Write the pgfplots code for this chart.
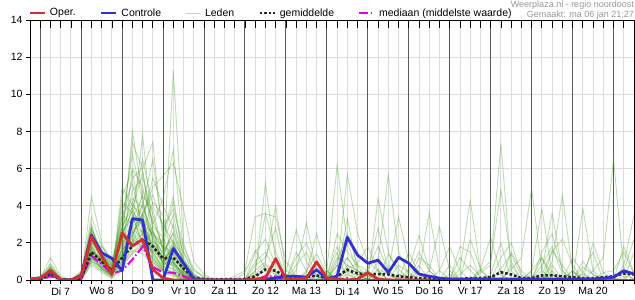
\documentclass[border=0pt]{standalone}
\usepackage{fontspec}
\setmainfont{Liberation Sans}
\usepackage{pgfplots}
\usepackage{pgfplotstable}
\pgfplotsset{compat=1.18}
\definecolor{operred}{RGB}{212,48,48}
\definecolor{ctrlblue}{RGB}{48,48,212}
\definecolor{memgreen}{RGB}{70,155,35}
\definecolor{medmag}{RGB}{225,0,225}
\definecolor{gridgray}{RGB}{220,220,220}
\definecolor{daygray}{RGB}{90,90,90}
\definecolor{infogray}{RGB}{150,150,150}
\pgfplotsset{
 operstyle/.style={operred, line width=2.8bp, line join=round},
 ctrlstyle/.style={ctrlblue, line width=2.8bp, line join=round},
 memstyle/.style={memgreen, line width=0.9bp, opacity=0.35},
 meanstyle/.style={black!85, line width=2.6bp, dash pattern=on 2.6bp off 2bp},
 medstyle/.style={medmag, line width=2bp, dash pattern=on 9bp off 2.5bp on 1.5bp off 2.5bp},
}
\newcommand{\tfont}{\fontsize{10.5bp}{12bp}\selectfont}

% one row per series, one column per 6-hour step (hours from Tue 7 Jan 00:00)
\pgfplotstableread[header=false]{
h -6  0 6 12 18  24 30 36 42  48 54 60 66  72 78 84 90  96 102 108 114  120 126 132 138  144 150 156 162  168 174 180 186  192 198 204 210  216 222 228 234  240 246 252 258  264 270 276 282  288 294 300 306  312 318 324 330  336 342 348
oper 0.05  0.1 0.5 0 0  0.2 2.33 1.3 0.32  2.54 1.83 2.19 0.57  0.1 0 0 0  0 0 0 0  0 0.05 0.1 1.15  0.05 0.05 0.1 0.98  0.1 0.05 0 0.05  0.4 0.05 0 0  0 0 0 nan  nan nan nan nan  nan nan nan nan  nan nan nan nan  nan nan nan nan  nan nan nan
ctrl 0.05  0.1 0.45 0 0  0.25 2.42 1.47 1.16  0.5 3.3 3.23 0  0 1.7 0.9 0.05  0 0 0 0  0 0 0.05 0.1  0.2 0.2 0.15 0.55  0.05 0.2 2.3 1.34  0.9 1.07 0.4 1.22  0.9 0.32 0.2 0.1  0.05 0.05 0.05 0.05  0.05 0.05 0.05 0.05  0.05 0.05 0.05 0.05  0.05 0.05 0.05 0.1  0.15 0.5 0.32
mean 0.02  0.05 0.35 0.02 0.02  0.1 1.5 1.0 0.5  1.2 1.83 2.2 1.8  1.16 1.2 0.63 0.1  0.05 0.05 0.05 0.05  0.05 0.2 0.57 0.5  0.15 0.1 0.15 0.25  0.1 0.2 0.55 0.35  0.3 0.32 0.3 0.2  0.15 0.1 0.1 0.08  0.05 0.05 0.1 0.1  0.15 0.42 0.3 0.1  0.1 0.25 0.25 0.2  0.15 0.1 0.1 0.15  0.2 0.35 0.3
med 0  0 0.2 0 0  0.05 1.3 0.85 0.35  0.5 1.1 1.8 0.7  0.4 0.4 0.2 0  0 0 0 0  0 0 0.2 0.2  0 0 0 0  0 0 0.1 0  0 0 0 0  0 0 0 0  0 0 0 0  0 0 0 0  0 0 0 0  0 0 0 0  0 0 0
m1 0  0.1 0.5 0 0  0.2 1.8 1.0 0.4  2.0 8.0 4.5 1.2  0.5 1.0 0.3 0  0 0 0 0  0 0.2 0.5 0.3  0.1 0 0 0.2  0 0.3 1.2 0.4  0.2 0 0 0  0 0 0.2 0  0 0.3 0.8 0.2  0 0 0 0  0 0.2 0 0  0 0 0 0  0 0.2 0.1
m2 0  0 0.6 0.1 0  0.3 2.5 1.4 0.6  1.5 3.0 7.8 2.5  0.8 2.0 0.5 0.1  0 0 0 0  0 0.4 5.2 1.0  0.2 0 0 0  0 0 0.5 0.2  0 0 0 0  0 0 0 0  0 0 0 0.4  0.8 7.35 0.5 0  0 0 0 0  0 0.3 0 0  0 0 0
m3 0.1  0.2 0.8 0.1 0  0.1 4.5 2.0 0.8  3.0 5.5 6.0 7.4  2.0 1.0 0.2 0  0 0 0 0  0 0 0.3 0.1  0 0 0 0  0.5 6.2 2.0 0.5  0.3 0 0 0  0 0 0 0  0 0 0 0  0 0 0 0  0 0 0.3 0  0 0 0 0  0 0 0
m4 0  0 0.4 0 0  0.1 1.5 0.8 0.2  5.0 4.0 3.5 1.0  0.5 11.3 2.0 0.3  0 0 0 0  0 0 0 0  0 0 0.3 0  0 0 0 0  0 0.5 0 0  0 0 0 0  0 0.6 4.3 0.5  0 0 0 0  0 0 0 0  0 0 0 0.4  0.5 1.5 0.3
m5 0  0.1 1.2 0.2 0  0.4 2.8 1.5 0.5  1.2 6.0 5.0 3.0  4.4 7.0 1.5 0.2  0.1 0 0 0  0 0.5 1.0 4.0  0.5 0.2 0 0  0 0 0 0  0 0 0 0  0 0 0 0  0 0 0 0  0 0 0.6 1.2  4.93 0.5 0 0  0 0 0 0  0 0 0
m6 0  0 0.3 0 0  0 1.2 0.6 0.3  0.8 2.5 3.5 5.0  5.6 6.3 3.8 1.0  0.3 0 0 0  0 0 0 0  0 0 0 0  0 0.5 5.7 2.5  1.0 0.5 0 0  0 0 0 0  0 0 0 0  0 0 0 0  0 0 0.5 0  0 3.85 0.5 0  0 0 0
m7 0  0 0.5 0 0  0.2 3.4 1.8 1.0  2.5 7.4 6.0 2.0  1.0 0.5 0.2 0  0 0 0 0.2  0.5 3.4 3.6 1.5  0.3 0 0 0  0 0 0.3 0  0 0 0 0  0 0.8 0 0  0 0 0 0  0.2 0 0 0  0 0 0 0  0 0 0 0  0 0 0
m8 0  0 0.7 0.1 0  0.5 2.2 1.2 0.4  4.5 5.9 2.5 1.5  0.8 0.3 0.1 0  0 0 0 0  0 0 0 0  0.4 2.7 1.0 0.2  0 0 0 0  0 0 0 0  0 0 0 0  0 0 0 0  0 0 0 0  0.5 3.85 0.3 0  0 0 0 0  0 0 0
m9 0  0.1 0.4 0 0  0.1 1.0 0.5 0.2  1.8 4.0 6.5 4.0  3.0 2.0 0.5 0.1  0 0 0 0  0 0 0 0  0 0 0 0  0 0 0 0  0 1.0 5.7 1.5  0.3 0 0 0  0 0 0 0  0 0 0 0  0 0 0 0  0.5 0 0 0  0 0 0
m10 0  0 0.6 0 0  0.2 2.0 1.6 0.8  3.5 3.0 4.0 6.5  2.5 4.5 1.0 0.2  0 0 0 0  0 0 0 0  0 0 0 0  0 0 0 0  0 0 0 0.3  0 0.5 3.6 0.5  0 0 0 0  0 0 0 0  0 0.5 3.6 0.5  0 0 0 0  0 0 0
m11 0  0 0.3 0 0  0 0.8 0.4 0.1  0.6 1.5 2.0 1.0  0.5 0.3 0 0  0 0 0 0  0 0 0.2 0  0 0 0 0  0 0 0.8 0.5  0 4.4 1.5 0.3  0 0 0 0  0 0 0 0  0 0 0 0  0 0 1.0 4.57  0.5 0 0 0  0 0 0
m12 0  0.1 0.5 0 0  0.3 1.6 1.0 0.5  2.2 4.8 5.5 3.5  1.5 2.5 0.8 0.1  0 0 0 0  0 0.5 3.56 3.4  1.0 0.2 0 0  0 0.3 3.3 0.5  0 0 0 0  0 0 0 0  0 0 0 0  0 0 0 0  0 0 0 0  0 0 0 0  0 0 0
m13 0  0 0.4 0 0  0.1 2.6 1.2 0.3  1.0 3.5 3.0 2.5  2.0 3.5 0.8 0  0 0 0 0  0 0 0 0  0 0.5 3.08 0.5  0 0 0 0  0 0 0 0  0 0 0 0  0 0 0 0  0 0 0 0  0 0 0 0  0 0 0.5 1.2  6.5 0.5 0
m14 0  0 0.5 0.1 0  0.2 1.3 0.7 0.2  1.6 2.2 1.8 1.2  0.6 0.4 0.1 0  0 0 0 0  0 0 0 0  0 0 0.4 2.5  0.5 0 0 0  0 0 0 0  0 0 0 0  0 1.8 1.5 0  0 0 0 0  0 0 0 0  0 0 0 0  0 0.8 3.5
m15 0  0 0.9 0.1 0  0.4 2.0 1.8 1.2  2.8 4.2 3.0 2.0  1.2 3.0 1.5 0.5  0.2 0 0 0  0 0 0 0  0 0 0 0  0 0 0 0  0 0 0 0  0 0 0 0  0 0 0 0.5  1.0 4.84 1.0 0  0 0 0 0  0 0 0 0  0 0 0
m16 0  0 0.3 0 0  0.1 1.7 0.9 0.4  1.3 2.0 4.8 3.2  1.8 1.5 0.3 0  0 0 0 0  0 0 0 0  0 0 0 0  0 0 0 0  0 0 0.5 3.4  1.0 0 0 0  0 0 0 0  0 0 0 0  0 0 0 0  0 0 0 0  0 0 0
m17 0  0.1 0.6 0 0  0.2 2.9 1.1 0.6  3.8 5.2 2.8 1.8  1.0 1.8 0.6 0  0 0 0 0  0 0 0 0  0 0 0 0  0.5 0 0 0  0 0 0 0  0 0 0.5 2.87  0.5 0 0 0  0 0 0 0  0 0 0 0  0 0 0 0  0 0 0
m18 0  0 0.2 0 0  0 1.1 0.6 0.2  0.7 1.8 2.5 4.2  3.5 0.8 0.2 0  0 0 0 0  0 0 0 0  0 0 0 0  0 0 0 0  0 0 0 0  0 0 0 0  0 0 0 0.6  2.3 0.3 0 0  0 0 0 0  0 0 0 0  0 0 0
m19 0  0 0.5 0 0  0.3 2.4 1.3 0.5  2.4 3.8 5.8 2.8  0.8 1.2 0.4 0  0 0 0 0  0 1.0 1.5 0.5  0 0 0 0  0 2.5 1.5 0.8  0.5 0 0 0  0 0 0 0  0 0 0 0  0 0 0 0  0 0 0 0  0 0 0 0  0 0 0
m20 0  0 0.4 0 0  0.1 1.9 0.8 0.3  1.1 2.6 3.2 5.5  4.0 2.8 1.0 0.3  0 0 0 0  0 0 0 0  0 0 0 0  0 0 0 0  0 0 0 0  0 0 0 0.5  1.8 0.5 0 0  0 0 0 0  0 0 0 0  0 0.4 1.5 0  0 0 0
m21 0  0.2 0.6 0.1 0  0.2 1.4 1.0 0.6  3.2 6.8 4.2 2.2  1.5 0.6 0.2 0  0 0 0 0  0 0 0.8 0.3  0 0 0 0  0 0 0 0  0.5 2.8 0.5 0  0 0 0 0  0 0 0 0  0 0 0 0  0.5 1.2 0 0  0 0 0 0  0 0 0
m22 0  0 0.3 0 0  0.2 2.1 1.5 0.9  1.9 2.8 2.2 1.5  2.2 4.2 1.2 0.2  0 0 0 0  0 0 0 0  0 0 0 0  0 1.0 2.5 0.8  0 0 0 0  0 0 0 0  0 0 0 0  0.3 2.0 0 0  0 1.5 2.5 0.5  0 0 0 0  0 0 0
m23 0  0 0.5 0 0  0.1 1.6 0.9 0.4  2.6 3.3 4.5 3.8  1.6 2.2 0.5 0.1  0 0 0 0  0 0 0 0  0 1.5 0.5 0  0 0 0 0  0 0 0 0  1.5 0.3 0 0  0 0 0 0  0 0 0 0  0 0 0 0  0 0 0 0  0 0 0
m24 0  0 0.7 0 0  0.3 3.0 1.2 0.3  4.2 3.6 1.8 0.9  0.4 0.2 0 0  0 0 0 0  0 0 0 0  0 0 0 0  0 0 0 0  0 0 0 0  0 1.2 0.8 0  0 0 0 0  0 0 0 0  0 0 0.8 0  0 0 0 0  0 0 1.5
m25 0  0 0.4 0 0  0.1 1.4 0.6 0.2  1.4 2.4 3.6 4.6  2.8 3.8 1.8 0.6  0.1 0 0 0  0 0 0 0  0 0 0 0  0 0.8 1.2 0.3  0 0 0 0  0 0 0 0  0 1.2 0.5 0  0 0 0 0  0 0.8 1.8 0.3  0 0 0 0  0 0 0
m26 0  0 0.2 0 0  0 0.9 0.5 0.1  0.9 1.6 1.4 0.8  0.5 0.3 0 0  0 0 0 0  0 0.8 1.2 2.8  0.3 0 0 0  0 1.5 0 0  0 0 0 0  0 0 0 0  0 0 0 0  0 0 1.5 0.5  0 0 0 0  0 0 0 0  0 0 0
m27 0  0 0.6 0 0  0.2 2.3 1.4 0.7  3.4 4.4 3.9 2.6  1.3 2.6 0.9 0.2  0 0 0 0  0 0 0 0  0 1.2 2.0 0.6  0 0 0 0  0 0 0 0  0.4 1.5 0.5 0  0 0 0 0  0 0 0 0  0 0 0 0  0 1.0 0.3 0  0 0 0
m28 0  0 0.5 0 0  0.1 1.2 0.7 0.2  1.7 2.9 2.6 1.9  0.9 1.6 0.4 0  0 0 0 0  0 1.5 2.2 0.8  0 0 0 0  0 0 0 0  0 0 0 0  0 0 0 0  0 0 0 0  0 1.2 2.0 0.3  0 0 0 0  0 0 0 0  0 0.5 2.2
m29 0  0 0.4 0 0  0.2 1.8 1.1 0.5  2.1 3.1 3.4 2.3  1.1 0.9 0.3 0  0 0 0 0  0 0 0 0  0 0 0 0  0 0 0 0  0.6 1.8 0.5 0  0 0 0 0  0 0 0 0  0 0 0 0  0 0 1.5 2.2  0.8 0 0 0  0 0 0
m30 0  0.1 0.5 0.1 0  0.3 2.7 1.6 0.6  2.9 3.9 2.4 1.3  0.7 1.4 0.5 0  0 0 0 0  0 0 0 0  0 0 0 0  0.3 1.8 0.6 0  0 0 0 0  0 0 0 0  0.8 0 0 0  0 0 0 0  0 0 0 0  0 0 2.0 0.4  0 0 0
m31 0  0 0.4 0 0  0.2 1.5 1.2 0.6  1.4 2.1 2.7 1.6  1.0 0.8 0.3 0  0 0 0 0  0 0.3 0.9 0.4  0 0.8 1.5 0.2  0 0 0.6 0.9  1.8 0.5 0 0  0 0 0 0  0.3 0 0 0  0 0.6 1.4 0.2  0 0 0 0  0 0 0 0  0 0 0.5
m32 0  0 0.6 0 0  0.2 2.2 1.0 0.3  2.8 1.9 3.6 2.4  1.8 1.1 0.2 0  0 0 0 0  0.4 1.6 0.6 0  0 0 0 0  0 0.8 0.4 0  0 0 1.4 0.6  0 0 0 0  0 0 2.2 0.6  0 0 0 0  0.3 0 0 0  1.2 0.4 0 0  0 0 0
m33 0  0.1 0.3 0 0  0.1 1.1 0.9 0.6  1.2 3.4 2.0 1.1  0.6 1.9 0.7 0.1  0 0 0 0  0 0 0 0  0 0 0.5 1.4  0.3 0 0 0  0 0.6 0.3 0  0 0 0 0  0 0 0 0  0 0 0 0  0 1.2 0.3 0  0 0 0 0  0 1.8 0.4
m34 0  0 0.5 0 0  0.3 1.7 0.9 0.4  2.0 2.6 1.6 2.9  2.3 0.9 0.2 0  0 0 0 0  0 0 0 0  0 0 0 0  0 1.2 0.8 0.3  0 0 0 0  0.6 2.4 0.5 0  0 0 0 0  0 0 0 0  0 0 0 0  0.5 0 0 0  0 0 0
m35 0  0 0.4 0 0  0.2 1.9 1.3 0.7  1.6 2.3 4.1 2.1  1.4 0.9 0.4 0  0 0 0 0  0 0 0 0  0 0 0 0  0 0 0 0  0 0 0 0  0 0 0 0  0 0 0 0  0 0 0.8 0  0 0.3 1.6 0.8  0 0 0 0  0 0 0
m36 0  0 0.3 0 0  0 1.3 0.6 0.3  1.0 2.9 3.3 1.7  0.9 2.1 1.1 0.3  0 0 0 0  0 0 0 0  0 0 0 0  0 0 0 0  0 0 0 0  0 0 0 0  0 0 0 0  0 0 0 0  0 0 0 0  0 0 0 0  0 0 0
m37 0  0 0.6 0 0  0.2 2.6 1.1 0.5  2.3 2.0 2.5 1.5  0.6 0.4 0 0  0 0 0 0  0 0 0 0  0 0 0 0  0 0 0 0  0 0 0 0.8  0.4 0 0 0  0 0 0 0  0 0 0 0  0 0 0 0  0 0.7 0.3 0  0 0 0
m38 0  0 0.5 0.1 0  0.1 1.6 1.0 0.5  1.3 1.8 2.2 1.4  0.7 0.6 0.1 0  0 0 0 0  0 0 0 0  0 0 0 0  0 0 0 0  0 0 0 0  0 0 0 0  0 0 0 0  0 0 0 0  0 0 0 0  0 0 0 0  0 0 0
m39 0  0 0.7 0 0  0.2 2.0 1.4 0.8  2.5 3.7 2.9 1.9  1.2 1.6 0.5 0  0 0 0 0  0 0 0 0  0 0 0 0  0 0 0 0  0 0 0 0  0 0 0 0  0 0 0 0  0 0 0 0  0 0 0 0  0 0 0 0  0 0 0
m40 0  0 0.3 0 0  0.1 1.0 0.7 0.3  0.9 1.4 1.9 2.6  1.7 0.7 0.2 0  0 0 0 0  0 0 0 0  0 0 0 0  0 0 0 0  0 0 0 0  0 0 0 0  0 0 0 0  0 0 0 0  0 0 0 0  0 0 0 0  0 0 0
}\rawdata
\pgfplotstabletranspose[colnames from=0]{\ens}{\rawdata}

\begin{document}
\begin{tikzpicture}
\useasboundingbox (0,0) rectangle (635bp,300bp);
\begin{axis}[
  at={(30bp,20bp)}, anchor=south west,
  scale only axis, width=604bp, height=260bp,
  xmin=-6, xmax=348, ymin=0, ymax=14,
  axis line style={black, line width=0.8bp},
  tick pos=left, tick align=outside,
  major tick length=4bp, minor tick length=4bp,
  tick style={black, line width=0.8bp},
  xtick={12,36,...,324},
  xticklabels={Di 7, Wo 8, Do 9, Vr 10, Za 11, Zo 12, Ma 13, Di 14, Wo 15, Do 16, Vr 17, Za 18, Zo 19, Ma 20},
  minor xtick={-6,6,12,18,30,36,42,54,60,66,78,84,90,102,108,114,126,132,138,150,156,162,174,180,186,198,204,210,222,228,234,246,252,258,270,276,282,294,300,306,318,324,330,342,348},
  extra x ticks={0,24,...,336},
  extra x tick labels={},
  extra x tick style={grid=major, major grid style={daygray, line width=1bp}},
  ytick={0,2,...,14},
  xmajorgrids=false, xminorgrids=true, ymajorgrids=true,
  minor grid style={gridgray, line width=0.9bp},
  major grid style={gridgray, line width=0.9bp},
  ticklabel style={font=\tfont, text=black},
  /pgf/number format/assume math mode=true,
  legend image code/.code={\draw[#1] (0bp,0bp) -- (15bp,0bp);},
  legend style={at={(0,1)}, anchor=west, xshift=-2bp, yshift=7bp,
    draw=none, fill=none, font=\tfont, inner sep=0pt,
    legend columns=5,
    nodes={inner xsep=4bp},
    /tikz/every even column/.append style={column sep=20bp}},
]
\addlegendimage{operstyle}\addlegendentry{Oper.}
\addlegendimage{ctrlstyle}\addlegendentry{Controle}
\addlegendimage{memstyle}\addlegendentry{Leden}
\addlegendimage{meanstyle}\addlegendentry{gemiddelde}
\addlegendimage{medstyle}\addlegendentry{mediaan (middelste waarde)}
\pgfplotsinvokeforeach{1,...,40}{
  \addplot[memstyle, forget plot] table[x=h, y=m#1] {\ens};
}
\addplot[medstyle, forget plot] table[x=h, y=med] {\ens};
\addplot[meanstyle, forget plot] table[x=h, y=mean] {\ens};
\addplot[ctrlstyle, forget plot] table[x=h, y=ctrl] {\ens};
\addplot[operstyle, forget plot] table[x=h, y=oper] {\ens};
\end{axis}
\begin{axis}[
  at={(30bp,20bp)}, anchor=south west,
  scale only axis, width=604bp, height=260bp,
  xmin=-6, xmax=348, ymin=0, ymax=14,
  axis x line*=top, axis y line=none,
  axis line style={black, line width=0.8bp},
  xtick={-6,0,...,348}, xticklabels={},
  tick align=inside, major tick length=8bp,
  tick style={black, line width=0.8bp},
]
\end{axis}
\node[anchor=north east, inner sep=0pt, align=right, text=infogray,
  font=\fontsize{9bp}{10bp}\selectfont] at (634bp,299.5bp)
  {Weerplaza.nl - regio noordoost\\Gemaakt: ma 06 jan 21:27};
\end{tikzpicture}
\end{document}
